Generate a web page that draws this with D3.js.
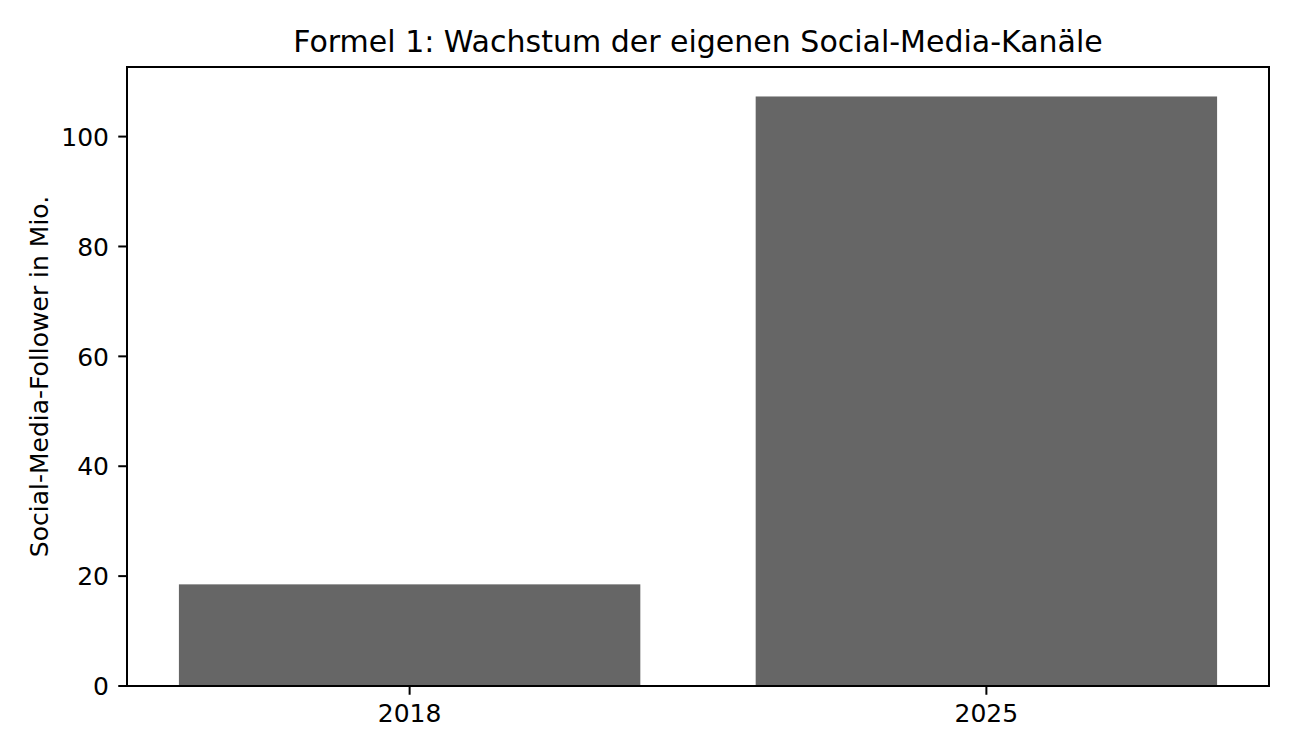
<!DOCTYPE html>
<html>
<head>
<meta charset="utf-8">
<script src="https://cdn.jsdelivr.net/npm/d3@7"></script>
<style>
  html, body { margin: 0; padding: 0; background: #fff; }
  svg { display: block; font-family: "DejaVu Sans", sans-serif; }
</style>
</head>
<body>
<svg id="chart" width="1296" height="756"></svg>
<script>
const categories = ["2018", "2025"];
const values = [18.5, 107.3];
const yTicks = [0, 20, 40, 60, 80, 100];
const titleText = "Formel 1: Wachstum der eigenen Social-Media-Kanäle";
const yLabelText = "Social-Media-Follower in Mio.";

(function () {
const svg = d3.select("#chart");
const mLeft = 127, mRight = 1269, mTop = 67, mBottom = 686;
const lw = 2;

const yMax = d3.max(values) * 1.05;
const y = d3.scaleLinear().domain([0, yMax]).range([mBottom, mTop]);
const x = d3.scaleLinear().domain([-0.49, 1.49]).range([mLeft, mRight]);
const barW = 0.8;

svg.append("rect").attr("width", 1296).attr("height", 756).attr("fill", "#fff");

svg.append("g").selectAll("rect").data(values).join("rect")
  .attr("x", (d, i) => x(i - barW / 2))
  .attr("width", (d, i) => x(i + barW / 2) - x(i - barW / 2))
  .attr("y", d => y(d))
  .attr("height", d => y(0) - y(d))
  .attr("fill", "#666666");

// frame
svg.append("rect")
  .attr("x", mLeft).attr("y", mTop)
  .attr("width", mRight - mLeft).attr("height", mBottom - mTop)
  .attr("fill", "none").attr("stroke", "#000").attr("stroke-width", lw);

// y axis ticks
const yg = svg.append("g");
yTicks.forEach(t => {
  yg.append("line").attr("x1", mLeft - 8.75).attr("x2", mLeft)
    .attr("y1", y(t)).attr("y2", y(t)).attr("stroke", "#000").attr("stroke-width", lw);
  yg.append("text").attr("x", mLeft - 18).attr("y", y(t)).attr("dy", "0.37em")
    .attr("text-anchor", "end").attr("font-size", 25).attr("fill", "#000").text(t);
});

// x axis ticks
const xg = svg.append("g");
categories.forEach((c, i) => {
  xg.append("line").attr("x1", x(i)).attr("x2", x(i))
    .attr("y1", mBottom).attr("y2", mBottom + 8.75).attr("stroke", "#000").attr("stroke-width", lw);
  xg.append("text").attr("x", x(i)).attr("y", 722)
    .attr("text-anchor", "middle").attr("font-size", 25).attr("fill", "#000").text(c);
});

// title
svg.append("text").attr("x", (mLeft + mRight) / 2).attr("y", 52)
  .attr("text-anchor", "middle").attr("font-size", 30).attr("fill", "#000").text(titleText);

// y label
svg.append("text")
  .attr("transform", `translate(48, ${(mTop + mBottom) / 2}) rotate(-90)`)
  .attr("text-anchor", "middle").attr("font-size", 25).attr("fill", "#000").text(yLabelText);
})();
</script>
</body>
</html>
